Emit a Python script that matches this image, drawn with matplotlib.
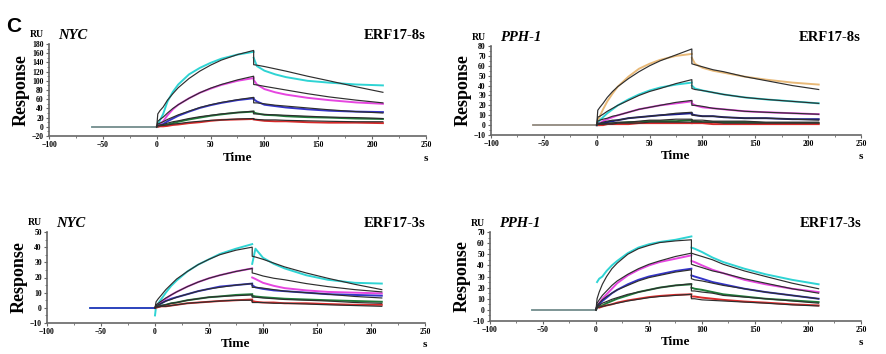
import numpy as np
import matplotlib
matplotlib.use("Agg")
import matplotlib.pyplot as plt
from matplotlib.ticker import MultipleLocator

nan = np.nan

# ── Time grids (s) shared by all sensorgrams ───────────────────────────
T_ASSOC = [0, 1, 3, 6, 10, 15, 20, 30, 40, 50, 60, 75, 90]
T_DISS = [90, 93, 100, 110, 120, 140, 160, 185, 210]
T_BASE = [-60, 0]

# ── NYC / ERF17-8s (RU) ────────────────────────────────────────────────
nyc8_fit_assoc = [
    [0, 28, 35, 43, 58, 72, 85, 105, 121, 134, 145, 157, 166],
    [0, 12, 16, 21, 30, 40, 48, 62, 74, 84, 92, 102, 110],
    [0, 6, 8, 11, 16, 21, 26, 34, 42, 48, 53, 59, 64],
    [0, 3, 4, 5, 8, 11, 13, 18, 22, 25, 28, 31, 34],
    [0, 2, 2, 3, 4, 6, 7, 10, 12, 14, 15, 17, 18],
]
nyc8_fit_diss = [
    [135, 134, 131, 126, 121, 110, 100, 87, 75],
    [92, 91, 88, 84, 80, 72, 65, 58, 52],
    [52, 52, 50, 47, 45, 41, 37, 33, 30],
    [28, 28, 27, 26, 25, 23, 21, 20, 18],
    [16, 16, 15, 15, 14, 13, 12, 11, 11],
]
nyc8_obs_assoc = [
    [0, 4, 14, 28, 55, 76, 92, 114, 128, 139, 148, 157, 163],
    [0, 2, 6, 12, 25, 38, 48, 62, 74, 83, 91, 100, 106],
    [0, 1, 3, 6, 12, 18, 24, 33, 41, 47, 52, 58, 62],
    [0, 1, 2, 3, 5, 8, 11, 16, 20, 24, 27, 31, 33],
    [0, 0, 1, 1, 2, 4, 5, 8, 10, 13, 15, 16, 17],
]
nyc8_obs_diss = [
    [150, 132, 122, 114, 108, 100, 96, 92, 90],
    [102, 92, 82, 75, 70, 63, 58, 53, 50],
    [60, 55, 48, 45, 42, 38, 35, 33, 32],
    [31, 29, 26, 25, 23, 21, 20, 18, 17],
    [16, 15, 13, 12, 12, 10, 9, 9, 8],
]

# ── PPH-1 / ERF17-8s (RU) ──────────────────────────────────────────────
pph8_fit_assoc = [
    [0, 15, 18, 22, 28, 34, 39, 47, 54, 60, 65, 71, 77],
    [0, 8, 9, 11, 14, 17, 20, 25, 30, 34, 37, 42, 46],
    [0, 4, 5, 6, 7, 9, 10, 13, 16, 18, 20, 23, 25],
    [0, 2, 2, 3, 4, 5, 5, 7, 8, 9, 10, 12, 13],
    [0, 1, 1, 1, 2, 2, 3, 3, 4, 5, 5, 6, 6],
    [0, 1, 1, 1, 1, 1, 2, 2, 2, 3, 3, 3, 3],
]
pph8_fit_diss = [
    [62, 61, 59, 56, 54, 49, 45, 40, 36],
    [37, 36, 35, 33, 31, 28, 26, 24, 22],
    [20, 20, 19, 17, 16, 14, 13, 12, 11],
    [10, 10, 9, 9, 8, 7, 7, 6, 5],
    [5, 5, 5, 4, 4, 4, 3, 3, 3],
    [3, 3, 3, 3, 2, 2, 2, 2, 2],
]
pph8_obs_assoc = [
    [0, 4, 9, 16, 24, 32, 39, 49, 57, 62, 66, 70, 72],
    [0, 2, 5, 8, 12, 16, 20, 26, 31, 35, 38, 41, 43],
    [0, 1, 2, 4, 6, 8, 10, 13, 16, 18, 20, 22, 24],
    [0, 0, 1, 2, 3, 4, 5, 7, 8, 9, 10, 11, 12],
    [0, 0, 0, 1, 1, 2, 2, 3, 3, 4, 4, 4, 5],
    [0, 0, 0, 0, 1, 1, 1, 1, 2, 2, 2, 2, 2],
]
pph8_obs_diss = [
    [68, 62, 58, 55, 53, 49, 46, 43, 41],
    [40, 37, 35, 33, 31, 28, 26, 24, 22],
    [22, 20, 18, 17, 16, 14, 13, 12, 11],
    [11, 10, 9, 9, 8, 7, 7, 6, 6],
    [4, 4, 3, 3, 3, 3, 2, 2, 2],
    [2, 2, 2, 1, 1, 1, 1, 1, 1],
]

# ── NYC / ERF17-3s (RU) ────────────────────────────────────────────────
nyc3_fit_assoc = [
    [0, 4, 6, 8.5, 12, 15.5, 19, 24, 28.5, 32, 35, 38, 40],
    [0, 2, 3, 4.5, 6.5, 8.5, 10.5, 14, 17, 19.5, 21.5, 24, 26],
    [0, 1.5, 2, 3, 4.5, 5.5, 7, 9, 11, 12.5, 13.5, 15, 16],
    [0, 0.5, 1, 1.5, 2, 3, 3.5, 5, 6, 7, 7.5, 8, 8.5],
    [0, 0.5, 0.5, 1, 1, 1.5, 2, 3, 3.5, 4, 4.5, 5, 5],
]
nyc3_fit_diss = [
    [34, 33.5, 32, 29.5, 27, 23, 19.5, 15.5, 12],
    [23, 22.5, 21, 19.5, 18.5, 16, 14, 12, 10.5],
    [13.5, 13.5, 13, 12, 11, 10, 9, 7.5, 6.5],
    [7, 7, 6.5, 6, 5.5, 5, 4.5, 3.5, 3],
    [3.5, 3.5, 3.5, 3, 3, 2.5, 2, 1.5, 1],
]
nyc3_obs_assoc = [
    [-5, 1, 3, 6, 10, 14.5, 18, 24, 28.5, 32, 35.5, 39, 42],
    [0, 1, 2, 4, 6, 8.5, 10.5, 14, 17, 19.5, 21.5, 24, 26],
    [0, 0.5, 1.5, 3, 4.5, 6, 7, 9, 11, 12.5, 14, 15, 16],
    [0, 0.5, 1, 1.5, 2, 3, 3.5, 5, 6, 7, 7.5, 8.5, 9],
    [0, 0, 0.5, 1, 1, 1.5, 2, 3, 3.5, 4, 4.5, 5, 5.5],
]
nyc3_obs_diss = [
    [29, 39, 33, 29, 26, 21.5, 18.5, 16.5, 16],
    [20, 19, 16.5, 14.5, 13, 11.5, 10.5, 10, 9.5],
    [15, 13.5, 12.5, 11.5, 11, 10, 9, 8.5, 8],
    [8, 7.5, 7, 6.5, 6, 5.5, 5, 4.5, 4],
    [4.5, 4, 3.5, 3.5, 3, 3, 2.5, 2, 2],
]

# ── PPH-1 / ERF17-3s (RU) ──────────────────────────────────────────────
pph3_fit_assoc = [
    [0, 10, 16, 23, 30, 37, 42, 50, 55, 58, 60.5, 62, 63],
    [0, 6, 9, 13, 17, 22, 26, 32, 37, 41, 44, 48, 51],
    [0, 4, 6, 9, 12, 15, 18, 22, 26, 29, 31, 34, 36],
    [0, 3, 4, 6, 7.5, 9.5, 11, 14, 16, 18, 20, 22, 23.5],
    [0, 2, 2.5, 3, 4, 5, 6, 8, 9.5, 11, 12, 13, 14],
]
pph3_fit_diss = [
    [51, 50, 48, 45, 41, 35, 30, 24, 19],
    [41, 40, 38, 35, 33, 28, 24, 19, 15],
    [28, 27, 26, 24, 22, 19, 16, 13, 10],
    [17, 17, 16, 15, 13, 11.5, 10, 8, 6],
    [10, 10, 9, 8.5, 8, 7, 6, 4.5, 3.5],
]
pph3_obs_assoc = [
    [nan, 25, 28, 30, 35, 40, 44, 51, 56, 59, 61, 63, 66],
    [0, 3, 6, 10, 14, 19, 24, 31, 36, 40, 43, 46, 49],
    [0, 3, 5, 8, 11, 15, 18, 23, 27, 30, 32, 35, 37],
    [0, 2, 3, 4, 6, 8, 10, 13, 16, 18, 20, 22, 23],
    [nan, nan, 2, 3, 4, 5, 6.5, 8.5, 10, 11.5, 12.5, 13.5, 14],
]
pph3_obs_diss = [
    [56, 55, 52, 47, 43, 37, 32, 27, 23],
    [44, 43, 40, 36, 33, 27, 23, 19, 16],
    [31, 30, 28, 25, 23, 19, 16, 13, 10],
    [20, 19, 18, 16, 14, 12, 10, 8.5, 7],
    [12, 12, 11, 10, 9, 7.5, 6.5, 5, 4],
]

# ── Styling ────────────────────────────────────────────────────────────
COLORS_5 = ["#2fd4d4", "#e646e0", "#3434c8", "#1f7a3a", "#d82a2a"]
COLORS_6 = ["#e8b978", "#2fd4d4", "#e646e0", "#1c1c8a", "#1f6a30", "#d82a2a"]
FIT_COLOR = "#2e2e2e"
AXIS_COLOR = "#666666"
SERIF = "Liberation Serif"

W, H = 887, 354
fig = plt.figure(figsize=(W / 100, H / 100), dpi=100)


def px_axes(x0, y0, x1, y1):
    """Axes from pixel box (left, top, right, bottom)."""
    return fig.add_axes([x0 / W, 1 - y1 / H, (x1 - x0) / W, (y1 - y0) / H])


def draw_panel(ax, ylim, ymajor, yminor, fit_a, fit_d, obs_a, obs_d,
               colors, gene, label, base_color="#8a8a8a"):
    ax.plot(T_BASE, [0, 0], color=colors[0], lw=1.2, zorder=1)
    for ca, cd, c in zip(obs_a, obs_d, colors):
        ax.plot(T_ASSOC, ca, color=c, lw=1.4, zorder=2)
        ax.plot(T_DISS, cd, color=c, lw=1.4, zorder=2)
    ax.plot(T_BASE, [0, 0], color=base_color, lw=1.2, zorder=3)
    for fa, fd in zip(fit_a, fit_d):
        ax.plot(T_ASSOC + T_DISS, fa + fd, color=FIT_COLOR, lw=0.85, zorder=4)

    ax.set_xlim(-100, 250)
    ax.set_ylim(*ylim)
    ax.xaxis.set_major_locator(MultipleLocator(50))
    ax.xaxis.set_minor_locator(MultipleLocator(25))
    ax.yaxis.set_major_locator(MultipleLocator(ymajor))
    ax.yaxis.set_minor_locator(MultipleLocator(yminor))
    for side in ("top", "right"):
        ax.spines[side].set_visible(False)
    for side in ("left", "bottom"):
        ax.spines[side].set_color(AXIS_COLOR)
        ax.spines[side].set_linewidth(1.2)
    ax.tick_params(which="major", length=2.5, width=0.8, color=AXIS_COLOR, pad=1.2,
                   labelsize=5.5)
    ax.tick_params(which="minor", length=1.5, width=0.6, color=AXIS_COLOR)
    for t in ax.get_xticklabels() + ax.get_yticklabels():
        t.set_fontfamily(SERIF)
        t.set_fontweight("bold")

    ax.text(-0.075, 0.5, "Response", transform=ax.transAxes, rotation=90,
            ha="center", va="center", fontsize=13, fontweight="bold", family=SERIF)
    ax.text(0.5, -0.235, "Time", transform=ax.transAxes, ha="center", va="center",
            fontsize=9.5, fontweight="bold", family=SERIF)
    ax.text(1.0, -0.24, "s", transform=ax.transAxes, ha="center", va="center",
            fontsize=8, fontweight="bold", family=SERIF)
    ax.text(-0.032, 1.1, "RU", transform=ax.transAxes, ha="center", va="center",
            fontsize=7, fontweight="bold", family=SERIF)
    ax.text(0.025, 1.09, gene, transform=ax.transAxes, ha="left", va="center",
            fontsize=10.5, fontweight="bold", fontstyle="italic", family=SERIF)
    ax.text(1.0, 1.09, label, transform=ax.transAxes, ha="right", va="center",
            fontsize=10.5, fontweight="bold", family=SERIF)


ax_tl = px_axes(49, 44, 426, 136)
ax_tr = px_axes(491, 46, 861, 135)
ax_bl = px_axes(47, 232, 425, 323)
ax_br = px_axes(490, 232, 861, 321)

draw_panel(ax_tl, (-20, 180), 20, 10, nyc8_fit_assoc, nyc8_fit_diss,
           nyc8_obs_assoc, nyc8_obs_diss, COLORS_5, "NYC", "ERF17-8s")
draw_panel(ax_tr, (-10, 80), 10, 5, pph8_fit_assoc, pph8_fit_diss,
           pph8_obs_assoc, pph8_obs_diss, COLORS_6, "PPH-1", "ERF17-8s")
draw_panel(ax_bl, (-10, 50), 10, 5, nyc3_fit_assoc, nyc3_fit_diss,
           nyc3_obs_assoc, nyc3_obs_diss, COLORS_5, "NYC", "ERF17-3s",
           base_color="#2a2ab8")
draw_panel(ax_br, (-10, 70), 10, 5, pph3_fit_assoc, pph3_fit_diss,
           pph3_obs_assoc, pph3_obs_diss, COLORS_5, "PPH-1", "ERF17-3s")

fig.text(14 / W, 1 - 27 / H, "C", ha="center", va="center", fontsize=15,
         fontweight="bold", family="Liberation Sans")

fig.savefig("out.png", dpi=100)
